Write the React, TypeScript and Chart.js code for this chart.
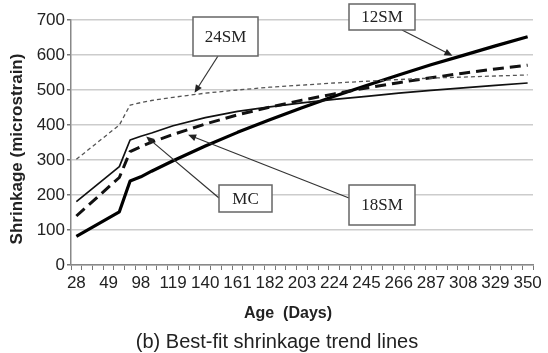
import React, { useEffect, useRef } from "react";
import { Chart, registerables } from "chart.js";

Chart.register(...registerables);

// Category axis: age in days (labels shown every third category)
const dayCategories = [
  28, 35, 42, 49, 56, 63, 98, 105, 112, 119, 126, 133, 140, 147, 154, 161, 168, 175, 182, 189, 196, 203,
  210, 217, 224, 231, 238, 245, 252, 259, 266, 273, 280, 287, 294, 301, 308, 315, 322, 329, 336, 343, 350,
];
const labelEvery = 3;

const sampleIdx = [0, 4, 5, 6, 7, 9, 12, 15, 18, 21, 24, 27, 30, 33, 36, 39, 42];

// Shrinkage (microstrain) for each mix at those categories
const sm12 = [82, 152, 240, 252, 268, 298, 340, 379, 415, 449, 482, 513, 543, 572, 599, 626, 652];
const sm18 = [140, 250, 324, 338, 351, 373, 403, 429, 451, 471, 489, 506, 521, 535, 548, 560, 571];
const mc = [181, 281, 357, 368, 377, 398, 421, 439, 452, 463, 473, 482, 491, 499, 506, 513, 520];
const sm24 = [302, 400, 457, 464, 470, 479, 491, 500, 508, 514, 520, 525, 530, 534, 537, 540, 543];

const yTicks = [0, 100, 200, 300, 400, 500, 600, 700];

const yTitle = "Shrinkage (microstrain)";
const xTitle = "Age  (Days)";
const caption = "(b) Best-fit shrinkage trend lines";

// Callout boxes (layout in px) and the data point each arrow points to
const callouts = [
  { text: "24SM", box: [193, 17, 65, 39], from: [218, 56], k: 11, v: 492 },
  { text: "12SM", box: [349, 4, 66, 26], from: [402, 30], k: 35, v: 598 },
  { text: "MC", box: [219, 185, 53, 27], from: [219, 198], k: 6.5, v: 367 },
  { text: "18SM", box: [349, 185, 66, 40], from: [349, 198], k: 10.4, v: 372 },
];

const SANS = "'Liberation Sans', Arial, sans-serif";
const SERIF = "'Liberation Serif', 'Times New Roman', serif";

function build(values: number[]) {
  const arr: (number | null)[] = dayCategories.map(() => null);
  sampleIdx.forEach((k, i) => {
    arr[k] = values[i];
  });
  return arr;
}

const decorPlugin = {
  id: "decor",
  afterDatasetsDraw(chart: any) {
    const ctx = chart.ctx as CanvasRenderingContext2D;
    const xs = chart.scales.x;
    const ys = chart.scales.y;
    ctx.save();
    // arrows
    callouts.forEach((c) => {
      const tx = xs.getPixelForValue(c.k);
      const ty = ys.getPixelForValue(c.v);
      const [fx, fy] = c.from;
      const ang = Math.atan2(ty - fy, tx - fx);
      const len = 8;
      const hw = 3.5;
      ctx.strokeStyle = "#333";
      ctx.lineWidth = 1.2;
      ctx.beginPath();
      ctx.moveTo(fx, fy);
      ctx.lineTo(tx - Math.cos(ang) * len * 0.6, ty - Math.sin(ang) * len * 0.6);
      ctx.stroke();
      ctx.fillStyle = "#222";
      ctx.beginPath();
      ctx.moveTo(tx, ty);
      const bx = tx - Math.cos(ang) * len;
      const by = ty - Math.sin(ang) * len;
      ctx.lineTo(bx + Math.sin(ang) * hw, by - Math.cos(ang) * hw);
      ctx.lineTo(bx - Math.sin(ang) * hw, by + Math.cos(ang) * hw);
      ctx.closePath();
      ctx.fill();
    });
    // boxes
    callouts.forEach((c) => {
      const [bx, by, bw, bh] = c.box;
      ctx.fillStyle = "#fff";
      ctx.fillRect(bx, by, bw, bh);
      ctx.strokeStyle = "#666";
      ctx.lineWidth = 1.5;
      ctx.strokeRect(bx, by, bw, bh);
      ctx.fillStyle = "#222";
      ctx.font = `17px ${SERIF}`;
      ctx.textAlign = "center";
      ctx.textBaseline = "middle";
      ctx.fillText(c.text, bx + bw / 2, by + bh / 2 + 1);
    });
    // titles
    ctx.fillStyle = "#222";
    ctx.textAlign = "center";
    ctx.textBaseline = "middle";
    ctx.font = `bold 17px ${SANS}`;
    ctx.save();
    ctx.translate(17, 149);
    ctx.rotate(-Math.PI / 2);
    ctx.fillText(yTitle, 0, 0);
    ctx.restore();
    ctx.font = `bold 16px ${SANS}`;
    ctx.fillText(xTitle, 288, 314);
    ctx.font = `20px ${SANS}`;
    ctx.fillText(caption, 277, 342);
    ctx.restore();
  },
};

export default function App() {
  const ref = useRef<HTMLCanvasElement | null>(null);
  useEffect(() => {
    if (!ref.current) return;
    const lineBase = { pointRadius: 0, spanGaps: true, tension: 0, fill: false, borderJoinStyle: "round" as const };
    const chart = new Chart(ref.current, {
      type: "line",
      data: {
        labels: dayCategories.map(String),
        datasets: [
          { ...lineBase, label: "24SM", data: build(sm24), borderColor: "#555", borderWidth: 1.3, borderDash: [4, 3] },
          { ...lineBase, label: "MC", data: build(mc), borderColor: "#111", borderWidth: 1.7 },
          { ...lineBase, label: "18SM", data: build(sm18), borderColor: "#111", borderWidth: 3, borderDash: [11, 6] },
          { ...lineBase, label: "12SM", data: build(sm12), borderColor: "#000", borderWidth: 3.2 },
        ],
      },
      options: {
        animation: false,
        responsive: false,
        maintainAspectRatio: false,
        layout: { padding: { left: 0, right: 15, top: 20, bottom: 0 } },
        plugins: { legend: { display: false }, tooltip: { enabled: false }, title: { display: false } },
        scales: {
          x: {
            type: "category",
            offset: true,
            grid: { offset: true, drawOnChartArea: false, drawTicks: true, tickLength: 5, color: "#777", lineWidth: 1 },
            border: { color: "#888", width: 1.5 },
            ticks: {
              autoSkip: false,
              maxRotation: 0,
              minRotation: 0,
              padding: 3,
              color: "#222",
              font: { family: SANS, size: 17 },
              callback: (_v: any, i: number) => (i % labelEvery === 0 ? String(dayCategories[i]) : ""),
            },
            afterFit: (s: any) => {
              s.height = 88;
            },
          },
          y: {
            min: yTicks[0],
            max: yTicks[yTicks.length - 1],
            afterBuildTicks: (s: any) => {
              s.ticks = yTicks.map((v) => ({ value: v }));
            },
            ticks: { padding: 2, color: "#222", font: { family: SANS, size: 17 } },
            grid: { color: "#cccccc", lineWidth: 1.5, tickColor: "#777", tickLength: 4 },
            border: { color: "#888", width: 1.5 },
            afterFit: (s: any) => {
              s.width = 71;
            },
          },
        },
      },
      plugins: [decorPlugin],
    });
    return () => chart.destroy();
  }, []);
  return (
    <div style={{ position: "absolute", left: 0, top: 0, width: 548, height: 353, background: "#fff" }}>
      <canvas ref={ref} width={548} height={353} style={{ width: 548, height: 353, display: "block" }} />
    </div>
  );
}
